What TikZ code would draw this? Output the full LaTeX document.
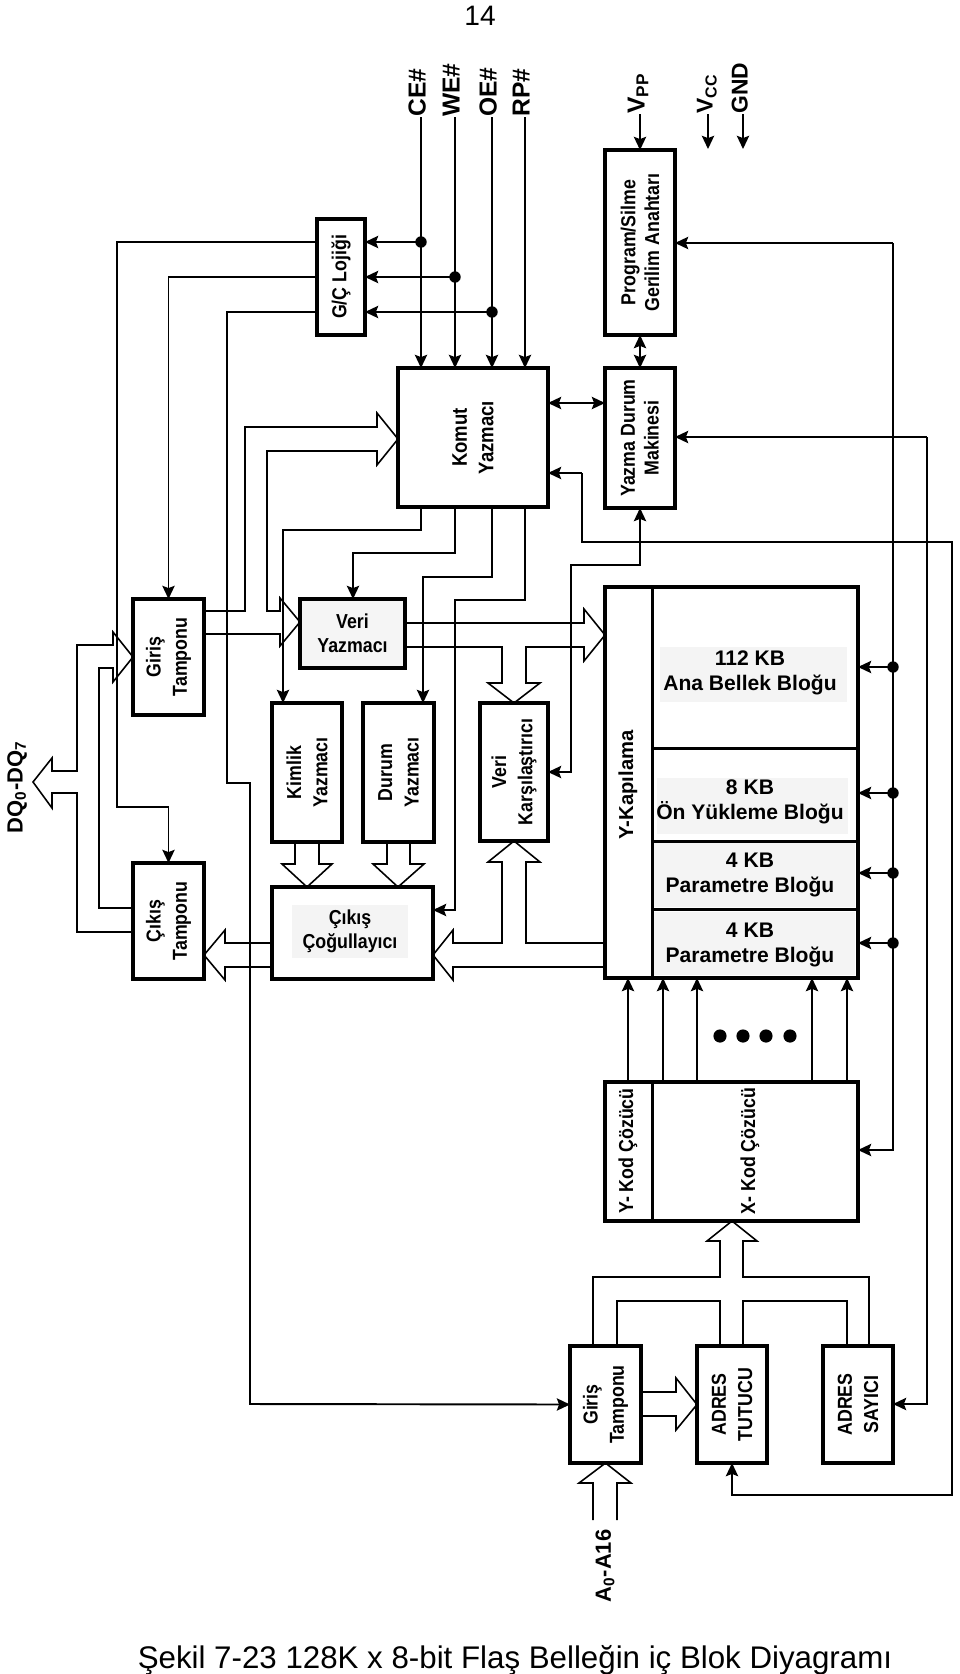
\documentclass[tikz,border=0pt]{standalone}
\usepackage{fontspec}
\setmainfont{Liberation Sans}
\newfontfamily\nsf[FakeStretch=0.88]{Liberation Sans}
\usetikzlibrary{arrows.meta}
\tikzset{
  rbox/.style 2 args={draw, line width=2.1pt, inner sep=0pt, outer sep=0pt,
     minimum width=#1*0.02cm, minimum height=#2*0.02cm},
  conn/.style={line width=1.1pt, line join=miter},
  sig/.style={conn, -{Stealth[length=7.5pt,width=7pt,inset=1.3pt]}},
  bsig/.style={conn, {Stealth[length=7.5pt,width=7pt,inset=1.3pt]}-{Stealth[length=7.5pt,width=7pt,inset=1.3pt]}},
  bus/.style={line width=0.9pt, line join=miter},
  jdot/.style={circle, fill, inner sep=0pt, minimum size=6.5pt},
  bigdot/.style={circle, fill, inner sep=0pt, minimum size=7.5pt},
  vtxt/.style={rotate=90, align=center, inner sep=0pt, font=\nsf\fontsize{11.5}{15}\selectfont\bfseries},
  vtxtb/.style={rotate=90, align=center, inner sep=0pt, font=\nsf\fontsize{11.5}{13.5}\selectfont\bfseries},
  htxt/.style={align=center, inner sep=0pt, font=\nsf\fontsize{11.5}{13.5}\selectfont\bfseries},
  memtxt/.style={align=center, inner sep=0pt, font=\fontsize{12}{14.5}\selectfont\bfseries},
  pinlbl/.style={rotate=90, anchor=mid west, inner sep=0pt, font=\fontsize{14}{15}\selectfont\bfseries},
  greybg/.style={fill=gray!9, draw=none},
}
\begin{document}
\begin{tikzpicture}[x=0.02cm, y=-0.02cm]
\useasboundingbox (0,0) rectangle (960,1674);

% page number and caption
\node[font=\fontsize{16}{18}\selectfont] (pnum) at (480,16) {14};
\node[font=\fontsize{17.8}{20}\selectfont] (cap) at (515,1660) {Şekil 7-23 128K x 8-bit Flaş Belleğin iç Blok Diyagramı};

% grey backgrounds
\fill[greybg] (660,647) rectangle (847,702);
\fill[greybg] (657,778) rectangle (848,834);
\fill[greybg] (654,843) rectangle (855,907);
\fill[greybg] (654,912) rectangle (855,975);
\fill[greybg] (292,905) rectangle (408,958);

% boxes
\node[rbox={48}{116}] (gc) at (341,277) {};
\node[rbox={150}{139}] (komut) at (473,437.5) {};
\node[rbox={70}{185}] (ps) at (640,242.5) {};
\node[rbox={70}{140}] (yazma) at (640,438) {};
\node[rbox={71}{116}] (girisD) at (168.5,657) {};
\node[rbox={71}{116}] (cikisT) at (168.5,921) {};
\node[rbox={105}{69}, fill=gray!8] (veriY) at (352.5,633.5) {};
\node[rbox={70}{139}] (kimlik) at (307,772.5) {};
\node[rbox={71}{139}] (durum) at (398.5,772.5) {};
\node[rbox={68}{138}] (karsi) at (514,772) {};
\node[rbox={161}{92}] (cog) at (352.5,933) {};
\node[rbox={253}{391}] (mem) at (731.5,782.5) {};
\node[rbox={253}{139}] (dec) at (731.5,1151.5) {};
\node[rbox={71}{117}] (girisA) at (605.5,1404.5) {};
\node[rbox={70}{117}] (tutucu) at (732,1404.5) {};
\node[rbox={70}{117}] (sayici) at (858,1404.5) {};

% internal dividers
\draw[line width=1.7pt] (652,587) -- (652,978);
\draw[line width=1.7pt] (652,748) -- (858,748);
\draw[line width=1.7pt] (652,841) -- (858,841);
\draw[line width=1.7pt] (652,909) -- (858,909);
\draw[line width=1.7pt] (652,1082) -- (652,1221);

% box texts
\node[vtxtb] at (gc) {G/Ç Lojiği};
\node[vtxtb] at (ps) {Program/Silme\\Gerilim Anahtarı};
\node[vtxtb] at (yazma) {Yazma Durum\\Makinesi};
\node[vtxt, font=\nsf\fontsize{12}{15}\selectfont\bfseries] at (komut) {Komut\\Yazmacı};
\node[vtxt] at (girisD) {Giriş\\Tamponu};
\node[vtxt] at (cikisT) {Çıkış\\Tamponu};
\node[htxt] at (veriY) {Veri\\Yazmacı};
\node[vtxt] at (kimlik) {Kimlik\\Yazmacı};
\node[vtxt] at (durum) {Durum\\Yazmacı};
\node[vtxt] at (karsi) {Veri\\Karşılaştırıcı};
\node[htxt] at (350,931) {Çıkış\\Çoğullayıcı};
\node[rotate=90, inner sep=0pt, font=\fontsize{11.5}{13}\selectfont\bfseries] at (628,785) {Y-Kapılama};
\node[memtxt] at (750,673) {112 KB\\Ana Bellek Bloğu};
\node[memtxt] at (750,802) {8 KB\\Ön Yükleme Bloğu};
\node[memtxt] at (750,875) {4 KB\\Parametre Bloğu};
\node[memtxt] at (750,945) {4 KB\\Parametre Bloğu};
\node[vtxt] at (628,1151) {Y- Kod Çözücü};
\node[vtxt] at (750,1151) {X- Kod Çözücü};
\node[vtxt] at (girisA) {Giriş\\Tamponu};
\node[vtxt] at (tutucu) {ADRES\\TUTUCU};
\node[vtxt] at (sayici) {ADRES\\SAYICI};

% pin labels
\coordinate (ce) at (421,117);
\coordinate (we) at (455,117);
\coordinate (oe) at (492,117);
\coordinate (rp) at (525,117);
\coordinate (vpp) at (640,114);
\coordinate (vcc) at (708,114);
\coordinate (gnd) at (743,114);
\node[pinlbl] at (ce) {CE\#};
\node[pinlbl] at (we) {WE\#};
\node[pinlbl] at (oe) {OE\#};
\node[pinlbl] at (rp) {RP\#};
\node[pinlbl] at (vpp) {V\textsubscript{PP}};
\node[pinlbl, font=\fontsize{13}{14}\selectfont\bfseries] at (vcc) {V\textsubscript{CC}};
\node[pinlbl, font=\fontsize{13}{14}\selectfont\bfseries] at (gnd) {GND};
\node[rotate=90, inner sep=0pt, font=\fontsize{12.5}{13}\selectfont\bfseries] (dqlbl) at (17,787) {DQ\textsubscript{0}-DQ\textsubscript{7}};
\node[rotate=90, inner sep=0pt, font=\fontsize{12.5}{13}\selectfont\bfseries] (alb) at (605,1566) {A\textsubscript{0}-A16};

% control signals
\coordinate (dce) at (421,242);
\coordinate (dwe) at (455,277);
\coordinate (doe) at (492,312);
\draw[sig] (ce) -- (ce |- komut.north);
\draw[sig] (we) -- (we |- komut.north);
\draw[sig] (oe) -- (oe |- komut.north);
\draw[sig] (rp) -- (rp |- komut.north);
\draw[sig] (dce) -- (dce -| gc.east);
\draw[sig] (dwe) -- (dwe -| gc.east);
\draw[sig] (doe) -- (doe -| gc.east);
\node[jdot] at (dce) {};
\node[jdot] at (dwe) {};
\node[jdot] at (doe) {};
\draw[sig] (vpp) -- (ps.north);
\coordinate (vccend) at (708,149);
\coordinate (gndend) at (743,149);
\draw[sig] (vcc) -- (vccend);
\draw[sig] (gnd) -- (gndend);

% G/C logic outputs
\coordinate (g1) at (117,807);
\coordinate (g2) at (227,783);
\coordinate (g3) at (250,1404);
\draw[sig] (gc.west |- dce) -| (g1) -| (cikisT.north);
\draw[sig] (gc.west |- dwe) -| (girisD.north);
\draw[sig] (gc.west |- doe) -| (g2) -| (g3) -- (girisA.west);

% command register outputs
\coordinate (k1) at (283,530);
\coordinate (v1) at (353,553);
\coordinate (d1) at (423,577);
\coordinate (c1) at (455,600);
\coordinate (c2) at (455,910);
\draw[sig] (ce |- komut.south) |- (k1) -- (k1 |- kimlik.north);
\draw[sig] (we |- komut.south) |- (v1) -- (v1 |- veriY.north);
\draw[sig] (oe |- komut.south) |- (d1) -- (d1 |- durum.north);
\draw[sig] (rp |- komut.south) |- (c1) -- (c2) -- (c2 -| cog.east);

% komut <-> yazma, ps <-> yazma
\coordinate (ky) at (576,403);
\draw[bsig] (ky -| komut.east) -- (ky -| yazma.west);
\draw[bsig] (ps.south) -- (yazma.north);

% right side control lines
\coordinate (r1) at (893,243);
\coordinate (r1b) at (893,1150);
\draw[sig] (r1) -- (r1 -| ps.east);
\draw[sig] (r1) -- (r1b) -- (r1b -| dec.east);
\foreach \yy/\nm in {667/m1,793/m2,873/m3,943/m4}{
  \coordinate (\nm) at (893,\yy);
  \draw[sig] (\nm) -- (\nm -| mem.east);
  \node[jdot] at (\nm) {};
}
\coordinate (r2) at (927,437);
\coordinate (r2b) at (927,1404);
\draw[sig] (r2) -- (r2 -| yazma.east);
\draw[sig] (r2) -- (r2b) -- (r2b -| sayici.east);
\coordinate (r3) at (582,473);
\coordinate (r3b) at (582,542);
\coordinate (r3c) at (952,542);
\coordinate (r3d) at (952,1495);
\draw[sig] (r3) -- (r3 -| komut.east);
\draw[sig] (r3) -- (r3b) -- (r3c) -- (r3d) -| (tutucu.south);

% comparator <-> write state machine
\coordinate (q1) at (571,772);
\coordinate (q2) at (571,565);
\draw[bsig] (q1 -| karsi.east) -- (q1) -- (q2) -| (yazma.south);

% decoder -> memory
\foreach \xx in {628,663,697,812,847}{
  \draw[sig] (\xx,1082) -- (\xx,978);
}
\foreach \xx in {720,743,766,790}{
  \node[bigdot] at (\xx,1036) {};
}

% hollow bus arrows
\draw[bus] (133,932) -- (77,932) -- (77,793) -- (52,793) -- (52,808) -- (33,782) -- (52,758) -- (52,771) -- (77,771) -- (77,645) -- (113,645) -- (113,632) -- (girisD.west) -- (113,682) -- (113,668) -- (99,668) -- (99,908) -- (133,908);
\draw[bus] (204,611) -- (245,611) -- (245,427) -- (377,427) -- (377,413) -- (komut.west |- 0,439) -- (377,465) -- (377,451) -- (267,451) -- (267,611) -- (280,611) -- (280,598) -- (300,622) -- (280,646) -- (280,634) -- (204,634);
\draw[bus] (405,623) -- (584,623) -- (584,609) -- (605,635) -- (584,661) -- (584,647) -- (526,647) -- (526,683) -- (540,683) -- (karsi.north) -- (488,683) -- (502,683) -- (502,647) -- (405,647);
\draw[bus] (295,842) -- (295,864) -- (282,864) -- (307,887) -- (332,864) -- (319,864) -- (319,842);
\draw[bus] (387,842) -- (387,864) -- (373,864) -- (398,887) -- (424,864) -- (410,864) -- (410,842);
\draw[bus] (605,967) -- (453,967) -- (453,980) -- (433,955) -- (453,930) -- (453,943) -- (502,943) -- (502,862) -- (488,862) -- (karsi.south) -- (540,862) -- (526,862) -- (526,943) -- (605,943);
\draw[bus] (272,943) -- (225,943) -- (225,930) -- (204,955) -- (225,980) -- (225,967) -- (272,967);
\draw[bus] (593,1346) -- (593,1277) -- (720,1277) -- (720,1241) -- (707,1241) -- (732,1221) -- (757,1241) -- (743,1241) -- (743,1277) -- (869,1277) -- (869,1346);
\draw[bus] (617,1346) -- (617,1301) -- (720,1301) -- (720,1346);
\draw[bus] (743,1346) -- (743,1301) -- (847,1301) -- (847,1346);
\draw[bus] (641,1392) -- (676,1392) -- (676,1378) -- (tutucu.west) -- (676,1430) -- (676,1416) -- (641,1416);
\draw[bus] (593,1520) -- (593,1483) -- (579,1483) -- (girisA.south) -- (631,1483) -- (617,1483) -- (617,1520);
\end{tikzpicture}
\end{document}
